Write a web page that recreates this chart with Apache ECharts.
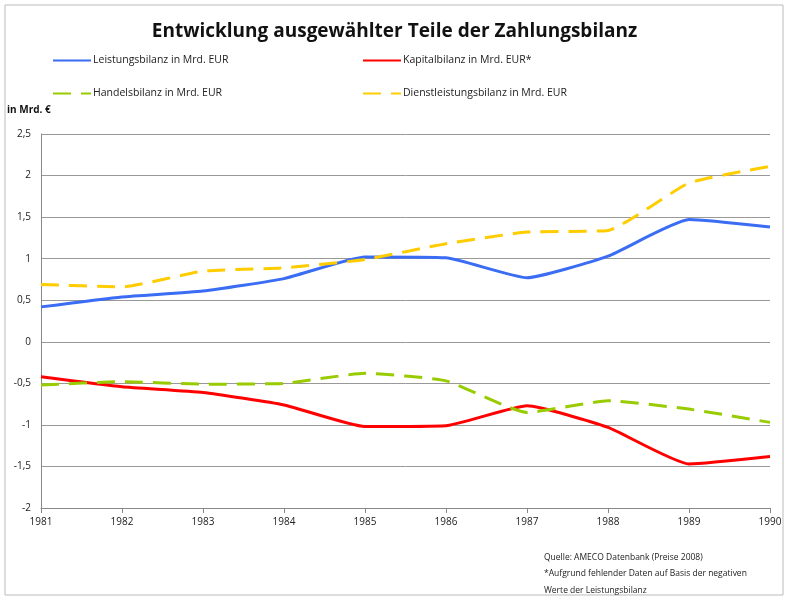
<!DOCTYPE html>
<html><head><meta charset="utf-8">
<script src="https://cdn.jsdelivr.net/npm/echarts@6/dist/echarts.min.js"></script>
<style>html,body{margin:0;padding:0;background:#fff}#c{width:789px;height:600px}</style>
</head><body><div id="c"></div>
<script>
const years = ['1981','1982','1983','1984','1985','1986','1987','1988','1989','1990'];
const leistungsbilanz = [0.42, 0.54, 0.61, 0.76, 1.02, 1.01, 0.77, 1.03, 1.47, 1.38];
const kapitalbilanz = [-0.42, -0.54, -0.61, -0.76, -1.02, -1.01, -0.77, -1.03, -1.47, -1.38];
const handelsbilanz = [-0.52, -0.48, -0.51, -0.50, -0.38, -0.47, -0.85, -0.71, -0.81, -0.97];
const dienstleistungsbilanz = [0.69, 0.66, 0.85, 0.89, 0.99, 1.18, 1.32, 1.34, 1.91, 2.11];
const names = ['Leistungsbilanz in Mrd. EUR','Kapitalbilanz in Mrd. EUR*','Handelsbilanz in Mrd. EUR','Dienstleistungsbilanz in Mrd. EUR'];
const colors = ['#3a6cf4','#ff0000','#99cc00','#ffcc00'];
const font = '"Open Sans", sans-serif';

const chart = echarts.init(document.getElementById('c'));
const legendPos = [[52,55],[362,55],[52,88],[362,88]];
const legends = names.map((n,i)=>({
  data:[n], left:legendPos[i][0], top:legendPos[i][1], padding:0,
  itemWidth:38, itemHeight:12, itemGap:4,
  itemStyle:{opacity:0},
  textStyle:{fontFamily:font, fontSize:10.5, color:'#222', padding:[0,0,0,-3]}
}));
function mk(name, data, color, dashed){
  return {name, type:'line', data, symbol:'none', smooth:0.15,
    lineStyle:{color, width:3, type: dashed ? [18,10] : 'solid'},
    itemStyle:{color}};
}
chart.setOption({
  animation:false,
  title:{text:'Entwicklung ausgewählter Teile der Zahlungsbilanz', left:'center', top:17,
    textStyle:{fontFamily:font, fontSize:19, fontWeight:'bold', color:'#111'}},
  legend: legends,
  graphic:[
    {type:'rect', shape:{x:5,y:5,width:778,height:590}, style:{fill:'none', stroke:'#bbb', lineWidth:1}},
    {type:'text', left:7, top:105, style:{text:'in Mrd. €', fontFamily:font, fontSize:10, fontWeight:'bold', fill:'#111'}},
    {type:'text', left:544, top:549, style:{text:'Quelle: AMECO Datenbank (Preise 2008)\n*Aufgrund fehlender Daten auf Basis der negativen\nWerte der Leistungsbilanz', fontFamily:font, fontSize:8.5, lineHeight:16.5, fill:'#222'}}
  ],
  grid:{left:41, right:19, top:134, bottom:92},
  xAxis:{type:'category', data:years, boundaryGap:false,
    axisLine:{onZero:false, lineStyle:{color:'#888'}},
    axisTick:{show:true, length:5, lineStyle:{color:'#888'}},
    axisLabel:{fontFamily:font, fontSize:10, color:'#222', margin:9}},
  yAxis:{type:'value', min:-2, max:2.5, interval:0.5,
    axisLine:{show:true, lineStyle:{color:'#888'}},
    axisTick:{show:false},
    splitLine:{lineStyle:{color:'#999'}},
    axisLabel:{fontFamily:font, fontSize:10, color:'#222', margin:10,
      formatter:v=>String(v).replace('.',',')}},
  series:[
    mk(names[0], leistungsbilanz, colors[0], false),
    mk(names[1], kapitalbilanz, colors[1], false),
    mk(names[2], handelsbilanz, colors[2], true),
    mk(names[3], dienstleistungsbilanz, colors[3], true)
  ]
});
</script></body></html>
